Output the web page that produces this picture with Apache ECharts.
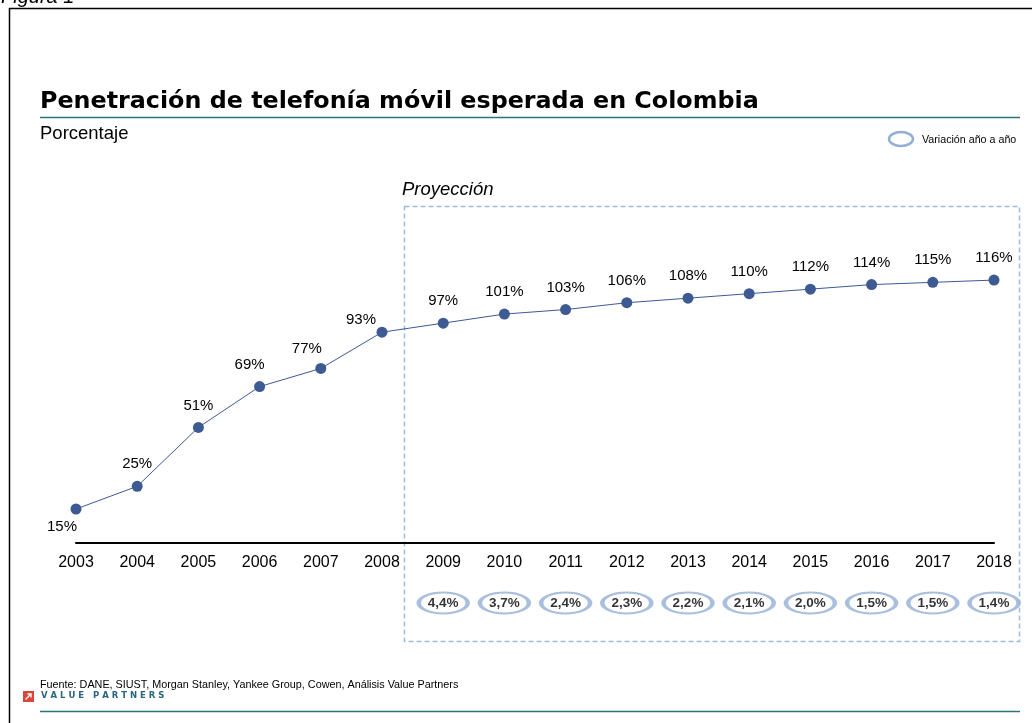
<!DOCTYPE html>
<html>
<head>
<meta charset="utf-8">
<script src="https://cdn.jsdelivr.net/npm/echarts@6/dist/echarts.min.js"></script>
<style>
html,body{margin:0;padding:0;background:#fff;}
#c{width:1032px;height:723px;}
</style>
</head>
<body>
<div id="c"></div>
<script>
const years = ['2003','2004','2005','2006','2007','2008','2009','2010','2011','2012','2013','2014','2015','2016','2017','2018'];
const penetration = [15,25,51,69,77,93,97,101,103,106,108,110,112,114,115,116];
const yoyVariation = [null,null,null,null,null,null,4.4,3.7,2.4,2.3,2.2,2.1,2.0,1.5,1.5,1.4];
const labelOffsets = {'2003':[-14,40],'2006':[-10,0],'2007':[-14,2],'2008':[-21,10]};

const chart = echarts.init(document.getElementById('c'), null, {renderer:'canvas'});

const lineData = penetration.map((v,i)=>{
  const o = labelOffsets[years[i]];
  return o ? {value:v, label:{offset:o}} : v;
});

const option = {
  animation:false,
  backgroundColor:'#fff',
  grid:[
    {left:76, width:918, top:271, height:272},
    {left:76, width:918, top:590, height:26}
  ],
  xAxis:[
    {type:'category', gridIndex:0, data:years, boundaryGap:false,
     axisLine:{lineStyle:{color:'#000', width:2}}, axisTick:{show:false},
     axisLabel:{color:'#000', fontSize:16, fontFamily:'Liberation Sans', margin:12}},
    {type:'category', gridIndex:1, data:years, boundaryGap:false, show:false}
  ],
  yAxis:[
    {type:'value', gridIndex:0, min:0, max:120, show:false, splitLine:{show:false}},
    {type:'value', gridIndex:1, min:0, max:10, show:false, splitLine:{show:false}}
  ],
  series:[
    {type:'line', xAxisIndex:0, yAxisIndex:0, data:lineData,
     symbol:'circle', symbolSize:11,
     lineStyle:{color:'#3d5a95', width:1},
     itemStyle:{color:'#3d5a92'},
     label:{show:true, position:'top', distance:9, color:'#000', fontSize:15,
            fontFamily:'Liberation Sans', formatter:p=>p.value+'%'}},
    {type:'scatter', xAxisIndex:1, yAxisIndex:1,
     data:yoyVariation.map(v=> v==null ? null : {value:5, v:v}),
     symbol:'circle', symbolSize:[49,21],
     itemStyle:{color:'#fff', borderColor:'#94afd4', borderWidth:3},
     label:{show:true, position:'inside', color:'#000', fontSize:13.5, fontWeight:'bold',
            fontFamily:'Liberation Sans',
            formatter:p=> p.data.v.toFixed(1).replace('.',',')+'%'}}
  ],
  graphic:[
    {type:'text', left:1, top:-13, style:{text:'Figura 1', font:'italic 20px "Liberation Sans"', fill:'#000'}},
    {type:'line', shape:{x1:9, y1:8.5, x2:1032, y2:8.5}, style:{stroke:'#000', lineWidth:1.5}},
    {type:'line', shape:{x1:9.5, y1:8, x2:9.5, y2:723}, style:{stroke:'#000', lineWidth:1.5}},
    {type:'text', left:40, top:90, style:{text:'Penetración de telefonía móvil esperada en Colombia', font:'bold 23.8px "DejaVu Sans"', fill:'#000'}},
    {type:'line', shape:{x1:40, y1:117.5, x2:1020, y2:117.5}, style:{stroke:'#2f7474', lineWidth:1.5}},
    {type:'text', left:40, top:124, style:{text:'Porcentaje', font:'18.5px "Liberation Sans"', fill:'#000'}},
    {type:'ellipse', shape:{cx:901, cy:139, rx:12, ry:7}, style:{fill:'#fff', stroke:'#94afd4', lineWidth:2.5}},
    {type:'text', left:922, top:134.5, style:{text:'Variación año a año', font:'10.7px "Liberation Sans"', fill:'#000'}},
    {type:'text', left:402, top:180, style:{text:'Proyección', font:'italic 18.5px "Liberation Sans"', fill:'#000'}},
    {type:'rect', shape:{x:404.5, y:206.5, width:615, height:435}, z:-1,
     style:{fill:'none', stroke:'#9dbbe0', lineWidth:1.5, lineDash:[5,3]}},
    {type:'text', left:40, top:679.5, style:{text:'Fuente: DANE, SIUST, Morgan Stanley, Yankee Group, Cowen, Análisis Value Partners', font:'10.8px "Liberation Sans"', fill:'#000'}},
    {type:'rect', shape:{x:23, y:691, width:11, height:11}, style:{fill:'#d9473a'}},
    {type:'line', shape:{x1:25.5, y1:699.5, x2:31, y2:694}, style:{stroke:'#fff', lineWidth:1.3}},
    {type:'polyline', shape:{points:[[27.5,694],[31,694],[31,697.5]]}, style:{stroke:'#fff', lineWidth:1.3, fill:'none'}},
    {type:'text', left:41, top:691.5, style:{text:'V A L U E   P A R T N E R S', font:'bold 8.5px "DejaVu Sans"', fill:'#2a6580'}},
    {type:'line', shape:{x1:40, y1:711.5, x2:1020, y2:711.5}, style:{stroke:'#2f7474', lineWidth:1.5}}
  ]
};
chart.setOption(option);
</script>
</body>
</html>
